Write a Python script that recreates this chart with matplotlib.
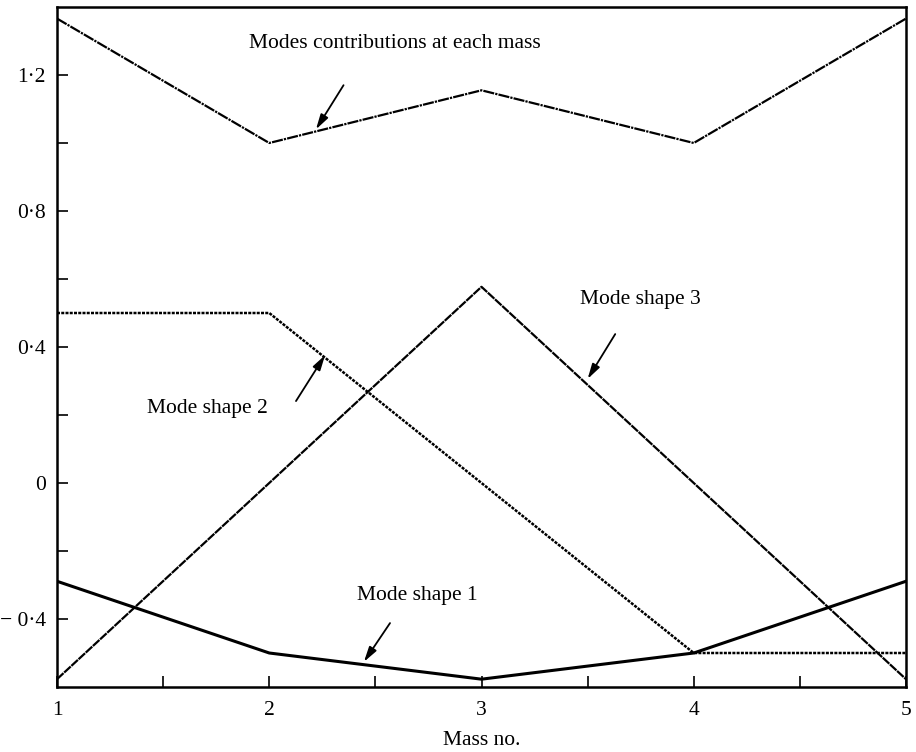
import numpy as np
import matplotlib
matplotlib.use('Agg')
import matplotlib.pyplot as plt
from matplotlib.ticker import FixedLocator

plt.rcParams['font.family'] = ['Liberation Serif', 'DejaVu Serif']

# data
mass = [1, 2, 3, 4, 5]
mode1 = [-0.289, -0.5, -0.577, -0.5, -0.289]
mode2 = [0.5, 0.5, 0.0, -0.5, -0.5]
mode3 = [-0.577, 0.0, 0.577, 0.0, -0.577]
contrib = [1.366, 1.0, 1.155, 1.0, 1.366]

ytick_vals = [-0.4, 0.0, 0.4, 0.8, 1.2]
ytick_labels = ['\u2212 0\u00b74', '0', '0\u00b74', '0\u00b78', '1\u00b72']
xtick_vals = [1, 2, 3, 4, 5]
xtick_labels = ['1', '2', '3', '4', '5']

fig = plt.figure(figsize=(9.16, 7.52), dpi=100)
ax = fig.add_axes([57/916, 1 - 687/752, 849/916, 680/752])

ax.plot(mass, mode1, color='black', lw=2.2, solid_joinstyle='miter')
ax.plot(mass, mode2, color='black', lw=1.8, linestyle=(0, (1.2, 0.5)))
ax.plot(mass, mode3, color='black', lw=1.6, linestyle=(0, (4, 0.4)))
ax.plot(mass, contrib, color='black', lw=1.6, linestyle=(0, (5, 0.5, 1, 0.5)))

ax.set_xlim(1, 5)
ax.set_ylim(-0.6, 1.4)

ax.xaxis.set_major_locator(FixedLocator(xtick_vals))
ax.xaxis.set_minor_locator(FixedLocator([1.5, 2.5, 3.5, 4.5]))
ax.set_xticklabels(xtick_labels)
ax.yaxis.set_major_locator(FixedLocator(ytick_vals))
ax.yaxis.set_minor_locator(FixedLocator([-0.2, 0.2, 0.6, 1.0]))
ax.set_yticklabels(ytick_labels)

ax.tick_params(which='both', direction='in', length=8, width=1.2,
               labelsize=15.5, top=False, right=False, color='black')
ax.tick_params(axis='x', pad=10)
ax.tick_params(axis='y', pad=8)
for s in ax.spines.values():
    s.set_linewidth(1.8)

ax.set_xlabel('Mass no.', fontsize=15.5, labelpad=8)

arrow = dict(arrowstyle='-|>,head_length=0.9,head_width=0.25', color='black',
             lw=1.3, shrinkA=0, shrinkB=0)
ax.text(2.59, 1.294, 'Modes contributions at each mass', fontsize=15.5,
        ha='center', va='center')
ax.annotate('', xy=(2.22, 1.04), xytext=(2.35, 1.17), arrowprops=arrow)

ax.text(3.75, 0.541, 'Mode shape 3', fontsize=15.5, ha='center', va='center')
ax.annotate('', xy=(3.50, 0.306), xytext=(3.63, 0.438), arrowprops=arrow)

ax.text(1.707, 0.218, 'Mode shape 2', fontsize=15.5, ha='center', va='center')
ax.annotate('', xy=(2.263, 0.376), xytext=(2.126, 0.241), arrowprops=arrow)

ax.text(2.696, -0.332, 'Mode shape 1', fontsize=15.5, ha='center', va='center')
ax.annotate('', xy=(2.446, -0.526), xytext=(2.569, -0.412), arrowprops=arrow)

fig.savefig('out.png', dpi=100)
